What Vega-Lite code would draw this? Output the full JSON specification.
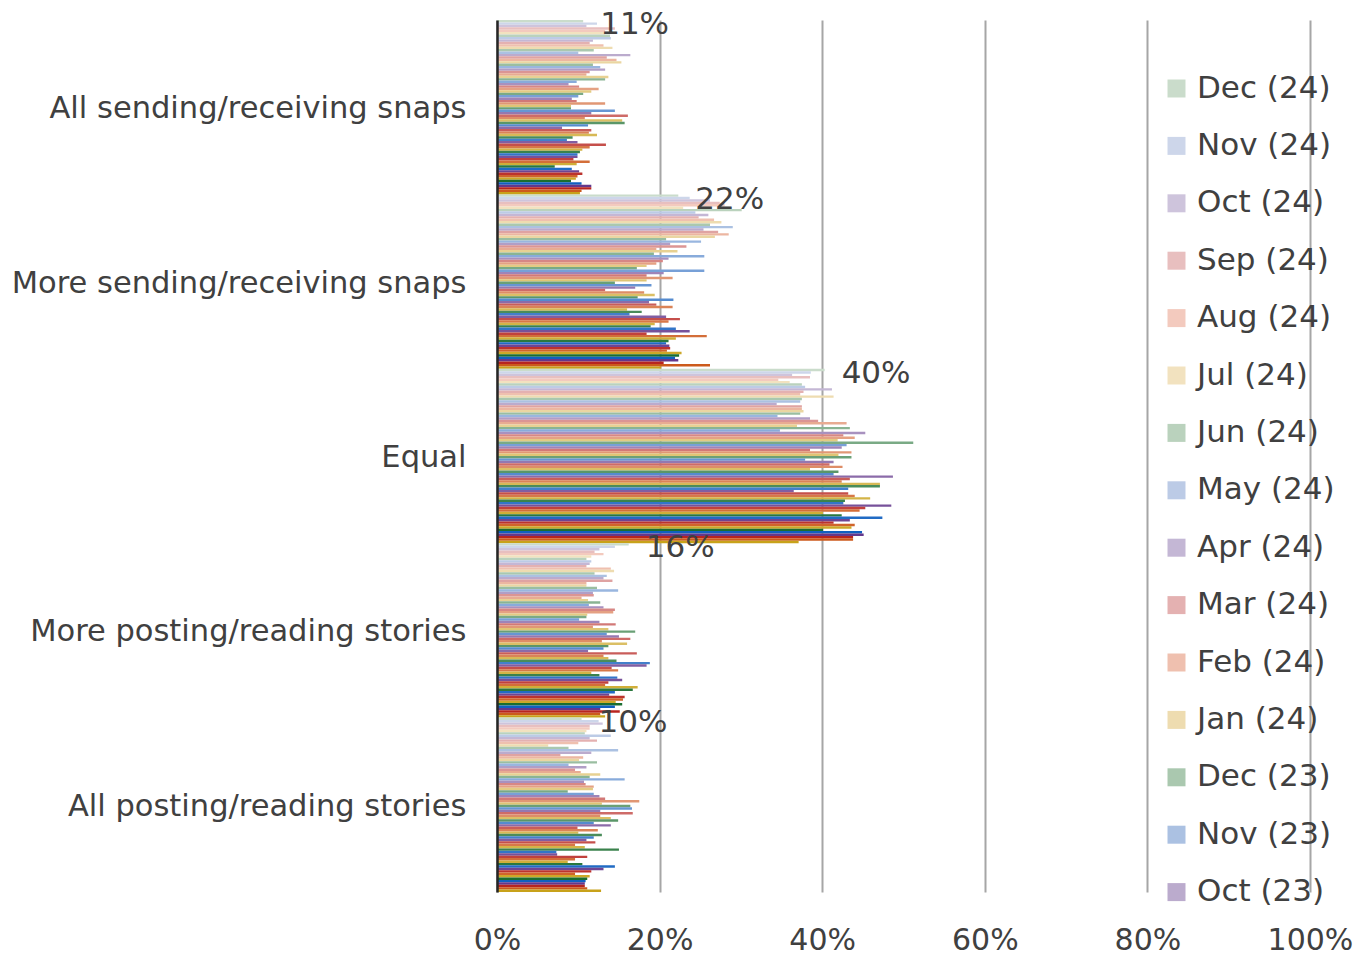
{
"$schema": "https://vega.github.io/schema/vega-lite/v6.json",
"width": 813, "height": 872,
"autosize": {"type": "none"},
"padding": {"left": 497, "top": 20, "right": 59, "bottom": 64},
"background": "white",
"config": {"view": {"stroke": null}, "font": "DejaVu Sans"},
"data": {"values": [
{"c":"All sending/receiving snaps","m":"Dec (24)","v":0.106},{"c":"All sending/receiving snaps","m":"Nov (24)","v":0.123},{"c":"All sending/receiving snaps","m":"Oct (24)","v":0.110},{"c":"All sending/receiving snaps","m":"Sep (24)","v":0.145},{"c":"All sending/receiving snaps","m":"Aug (24)","v":0.133},{"c":"All sending/receiving snaps","m":"Jul (24)","v":0.133},{"c":"All sending/receiving snaps","m":"Jun (24)","v":0.139},{"c":"All sending/receiving snaps","m":"May (24)","v":0.140},{"c":"All sending/receiving snaps","m":"Apr (24)","v":0.118},{"c":"All sending/receiving snaps","m":"Mar (24)","v":0.114},{"c":"All sending/receiving snaps","m":"Feb (24)","v":0.131},{"c":"All sending/receiving snaps","m":"Jan (24)","v":0.142},
{"c":"All sending/receiving snaps","m":"Dec (23)","v":0.119},{"c":"All sending/receiving snaps","m":"Nov (23)","v":0.100},{"c":"All sending/receiving snaps","m":"Oct (23)","v":0.164},{"c":"All sending/receiving snaps","m":"Sep (23)","v":0.135},{"c":"All sending/receiving snaps","m":"Aug (23)","v":0.147},{"c":"All sending/receiving snaps","m":"Jul (23)","v":0.153},{"c":"All sending/receiving snaps","m":"Jun (23)","v":0.118},{"c":"All sending/receiving snaps","m":"May (23)","v":0.127},{"c":"All sending/receiving snaps","m":"Apr (23)","v":0.133},{"c":"All sending/receiving snaps","m":"Mar (23)","v":0.114},{"c":"All sending/receiving snaps","m":"Feb (23)","v":0.110},{"c":"All sending/receiving snaps","m":"Jan (23)","v":0.137},
{"c":"All sending/receiving snaps","m":"Dec (22)","v":0.133},{"c":"All sending/receiving snaps","m":"Nov (22)","v":0.098},{"c":"All sending/receiving snaps","m":"Oct (22)","v":0.088},{"c":"All sending/receiving snaps","m":"Sep (22)","v":0.101},{"c":"All sending/receiving snaps","m":"Aug (22)","v":0.125},{"c":"All sending/receiving snaps","m":"Jul (22)","v":0.116},{"c":"All sending/receiving snaps","m":"Jun (22)","v":0.106},{"c":"All sending/receiving snaps","m":"May (22)","v":0.100},{"c":"All sending/receiving snaps","m":"Apr (22)","v":0.092},{"c":"All sending/receiving snaps","m":"Mar (22)","v":0.098},{"c":"All sending/receiving snaps","m":"Feb (22)","v":0.133},{"c":"All sending/receiving snaps","m":"Jan (22)","v":0.091},
{"c":"All sending/receiving snaps","m":"Dec (21)","v":0.091},{"c":"All sending/receiving snaps","m":"Nov (21)","v":0.145},{"c":"All sending/receiving snaps","m":"Oct (21)","v":0.116},{"c":"All sending/receiving snaps","m":"Sep (21)","v":0.161},{"c":"All sending/receiving snaps","m":"Aug (21)","v":0.108},{"c":"All sending/receiving snaps","m":"Jul (21)","v":0.154},{"c":"All sending/receiving snaps","m":"Jun (21)","v":0.157},{"c":"All sending/receiving snaps","m":"May (21)","v":0.112},{"c":"All sending/receiving snaps","m":"Apr (21)","v":0.080},{"c":"All sending/receiving snaps","m":"Mar (21)","v":0.116},{"c":"All sending/receiving snaps","m":"Feb (21)","v":0.113},{"c":"All sending/receiving snaps","m":"Jan (21)","v":0.123},
{"c":"All sending/receiving snaps","m":"Dec (20)","v":0.093},{"c":"All sending/receiving snaps","m":"Nov (20)","v":0.086},{"c":"All sending/receiving snaps","m":"Oct (20)","v":0.099},{"c":"All sending/receiving snaps","m":"Sep (20)","v":0.134},{"c":"All sending/receiving snaps","m":"Aug (20)","v":0.114},{"c":"All sending/receiving snaps","m":"Jul (20)","v":0.105},{"c":"All sending/receiving snaps","m":"Jun (20)","v":0.102},{"c":"All sending/receiving snaps","m":"May (20)","v":0.099},{"c":"All sending/receiving snaps","m":"Apr (20)","v":0.099},{"c":"All sending/receiving snaps","m":"Mar (20)","v":0.094},{"c":"All sending/receiving snaps","m":"Feb (20)","v":0.114},{"c":"All sending/receiving snaps","m":"Jan (20)","v":0.098},
{"c":"All sending/receiving snaps","m":"Dec (19)","v":0.071},{"c":"All sending/receiving snaps","m":"Nov (19)","v":0.092},{"c":"All sending/receiving snaps","m":"Oct (19)","v":0.101},{"c":"All sending/receiving snaps","m":"Sep (19)","v":0.105},{"c":"All sending/receiving snaps","m":"Aug (19)","v":0.099},{"c":"All sending/receiving snaps","m":"Jul (19)","v":0.097},{"c":"All sending/receiving snaps","m":"Jun (19)","v":0.091},{"c":"All sending/receiving snaps","m":"May (19)","v":0.104},{"c":"All sending/receiving snaps","m":"Apr (19)","v":0.116},{"c":"All sending/receiving snaps","m":"Mar (19)","v":0.116},{"c":"All sending/receiving snaps","m":"Feb (19)","v":0.104},{"c":"All sending/receiving snaps","m":"Jan (19)","v":0.102},
{"c":"More sending/receiving snaps","m":"Dec (24)","v":0.223},{"c":"More sending/receiving snaps","m":"Nov (24)","v":0.237},{"c":"More sending/receiving snaps","m":"Oct (24)","v":0.262},{"c":"More sending/receiving snaps","m":"Sep (24)","v":0.274},{"c":"More sending/receiving snaps","m":"Aug (24)","v":0.280},{"c":"More sending/receiving snaps","m":"Jul (24)","v":0.229},{"c":"More sending/receiving snaps","m":"Jun (24)","v":0.301},{"c":"More sending/receiving snaps","m":"May (24)","v":0.244},{"c":"More sending/receiving snaps","m":"Apr (24)","v":0.260},{"c":"More sending/receiving snaps","m":"Mar (24)","v":0.248},{"c":"More sending/receiving snaps","m":"Feb (24)","v":0.267},{"c":"More sending/receiving snaps","m":"Jan (24)","v":0.276},
{"c":"More sending/receiving snaps","m":"Dec (23)","v":0.262},{"c":"More sending/receiving snaps","m":"Nov (23)","v":0.290},{"c":"More sending/receiving snaps","m":"Oct (23)","v":0.254},{"c":"More sending/receiving snaps","m":"Sep (23)","v":0.272},{"c":"More sending/receiving snaps","m":"Aug (23)","v":0.285},{"c":"More sending/receiving snaps","m":"Jul (23)","v":0.268},{"c":"More sending/receiving snaps","m":"Jun (23)","v":0.208},{"c":"More sending/receiving snaps","m":"May (23)","v":0.251},{"c":"More sending/receiving snaps","m":"Apr (23)","v":0.213},{"c":"More sending/receiving snaps","m":"Mar (23)","v":0.233},{"c":"More sending/receiving snaps","m":"Feb (23)","v":0.196},{"c":"More sending/receiving snaps","m":"Jan (23)","v":0.222},
{"c":"More sending/receiving snaps","m":"Dec (22)","v":0.193},{"c":"More sending/receiving snaps","m":"Nov (22)","v":0.255},{"c":"More sending/receiving snaps","m":"Oct (22)","v":0.211},{"c":"More sending/receiving snaps","m":"Sep (22)","v":0.204},{"c":"More sending/receiving snaps","m":"Aug (22)","v":0.196},{"c":"More sending/receiving snaps","m":"Jul (22)","v":0.184},{"c":"More sending/receiving snaps","m":"Jun (22)","v":0.172},{"c":"More sending/receiving snaps","m":"May (22)","v":0.255},{"c":"More sending/receiving snaps","m":"Apr (22)","v":0.205},{"c":"More sending/receiving snaps","m":"Mar (22)","v":0.184},{"c":"More sending/receiving snaps","m":"Feb (22)","v":0.216},{"c":"More sending/receiving snaps","m":"Jan (22)","v":0.184},
{"c":"More sending/receiving snaps","m":"Dec (21)","v":0.145},{"c":"More sending/receiving snaps","m":"Nov (21)","v":0.190},{"c":"More sending/receiving snaps","m":"Oct (21)","v":0.170},{"c":"More sending/receiving snaps","m":"Sep (21)","v":0.133},{"c":"More sending/receiving snaps","m":"Aug (21)","v":0.181},{"c":"More sending/receiving snaps","m":"Jul (21)","v":0.194},{"c":"More sending/receiving snaps","m":"Jun (21)","v":0.173},{"c":"More sending/receiving snaps","m":"May (21)","v":0.217},{"c":"More sending/receiving snaps","m":"Apr (21)","v":0.187},{"c":"More sending/receiving snaps","m":"Mar (21)","v":0.196},{"c":"More sending/receiving snaps","m":"Feb (21)","v":0.216},{"c":"More sending/receiving snaps","m":"Jan (21)","v":0.160},
{"c":"More sending/receiving snaps","m":"Dec (20)","v":0.178},{"c":"More sending/receiving snaps","m":"Nov (20)","v":0.163},{"c":"More sending/receiving snaps","m":"Oct (20)","v":0.208},{"c":"More sending/receiving snaps","m":"Sep (20)","v":0.225},{"c":"More sending/receiving snaps","m":"Aug (20)","v":0.211},{"c":"More sending/receiving snaps","m":"Jul (20)","v":0.194},{"c":"More sending/receiving snaps","m":"Jun (20)","v":0.189},{"c":"More sending/receiving snaps","m":"May (20)","v":0.220},{"c":"More sending/receiving snaps","m":"Apr (20)","v":0.237},{"c":"More sending/receiving snaps","m":"Mar (20)","v":0.184},{"c":"More sending/receiving snaps","m":"Feb (20)","v":0.258},{"c":"More sending/receiving snaps","m":"Jan (20)","v":0.220},
{"c":"More sending/receiving snaps","m":"Dec (19)","v":0.211},{"c":"More sending/receiving snaps","m":"Nov (19)","v":0.208},{"c":"More sending/receiving snaps","m":"Oct (19)","v":0.212},{"c":"More sending/receiving snaps","m":"Sep (19)","v":0.213},{"c":"More sending/receiving snaps","m":"Aug (19)","v":0.209},{"c":"More sending/receiving snaps","m":"Jul (19)","v":0.227},{"c":"More sending/receiving snaps","m":"Jun (19)","v":0.224},{"c":"More sending/receiving snaps","m":"May (19)","v":0.219},{"c":"More sending/receiving snaps","m":"Apr (19)","v":0.223},{"c":"More sending/receiving snaps","m":"Mar (19)","v":0.205},{"c":"More sending/receiving snaps","m":"Feb (19)","v":0.262},{"c":"More sending/receiving snaps","m":"Jan (19)","v":0.202},
{"c":"Equal","m":"Dec (24)","v":0.403},{"c":"Equal","m":"Nov (24)","v":0.386},{"c":"Equal","m":"Oct (24)","v":0.363},{"c":"Equal","m":"Sep (24)","v":0.385},{"c":"Equal","m":"Aug (24)","v":0.346},{"c":"Equal","m":"Jul (24)","v":0.360},{"c":"Equal","m":"Jun (24)","v":0.375},{"c":"Equal","m":"May (24)","v":0.379},{"c":"Equal","m":"Apr (24)","v":0.412},{"c":"Equal","m":"Mar (24)","v":0.377},{"c":"Equal","m":"Feb (24)","v":0.373},{"c":"Equal","m":"Jan (24)","v":0.414},
{"c":"Equal","m":"Dec (23)","v":0.375},{"c":"Equal","m":"Nov (23)","v":0.373},{"c":"Equal","m":"Oct (23)","v":0.344},{"c":"Equal","m":"Sep (23)","v":0.375},{"c":"Equal","m":"Aug (23)","v":0.375},{"c":"Equal","m":"Jul (23)","v":0.377},{"c":"Equal","m":"Jun (23)","v":0.373},{"c":"Equal","m":"May (23)","v":0.345},{"c":"Equal","m":"Apr (23)","v":0.385},{"c":"Equal","m":"Mar (23)","v":0.395},{"c":"Equal","m":"Feb (23)","v":0.430},{"c":"Equal","m":"Jan (23)","v":0.369},
{"c":"Equal","m":"Dec (22)","v":0.434},{"c":"Equal","m":"Nov (22)","v":0.348},{"c":"Equal","m":"Oct (22)","v":0.453},{"c":"Equal","m":"Sep (22)","v":0.426},{"c":"Equal","m":"Aug (22)","v":0.440},{"c":"Equal","m":"Jul (22)","v":0.419},{"c":"Equal","m":"Jun (22)","v":0.512},{"c":"Equal","m":"May (22)","v":0.430},{"c":"Equal","m":"Apr (22)","v":0.424},{"c":"Equal","m":"Mar (22)","v":0.385},{"c":"Equal","m":"Feb (22)","v":0.436},{"c":"Equal","m":"Jan (22)","v":0.420},
{"c":"Equal","m":"Dec (21)","v":0.436},{"c":"Equal","m":"Nov (21)","v":0.379},{"c":"Equal","m":"Oct (21)","v":0.414},{"c":"Equal","m":"Sep (21)","v":0.409},{"c":"Equal","m":"Aug (21)","v":0.425},{"c":"Equal","m":"Jul (21)","v":0.385},{"c":"Equal","m":"Jun (21)","v":0.420},{"c":"Equal","m":"May (21)","v":0.414},{"c":"Equal","m":"Apr (21)","v":0.487},{"c":"Equal","m":"Mar (21)","v":0.434},{"c":"Equal","m":"Feb (21)","v":0.424},{"c":"Equal","m":"Jan (21)","v":0.471},
{"c":"Equal","m":"Dec (20)","v":0.471},{"c":"Equal","m":"Nov (20)","v":0.432},{"c":"Equal","m":"Oct (20)","v":0.365},{"c":"Equal","m":"Sep (20)","v":0.432},{"c":"Equal","m":"Aug (20)","v":0.440},{"c":"Equal","m":"Jul (20)","v":0.459},{"c":"Equal","m":"Jun (20)","v":0.428},{"c":"Equal","m":"May (20)","v":0.426},{"c":"Equal","m":"Apr (20)","v":0.485},{"c":"Equal","m":"Mar (20)","v":0.453},{"c":"Equal","m":"Feb (20)","v":0.446},{"c":"Equal","m":"Jan (20)","v":0.401},
{"c":"Equal","m":"Dec (19)","v":0.424},{"c":"Equal","m":"Nov (19)","v":0.474},{"c":"Equal","m":"Oct (19)","v":0.434},{"c":"Equal","m":"Sep (19)","v":0.414},{"c":"Equal","m":"Aug (19)","v":0.440},{"c":"Equal","m":"Jul (19)","v":0.436},{"c":"Equal","m":"Jun (19)","v":0.401},{"c":"Equal","m":"May (19)","v":0.449},{"c":"Equal","m":"Apr (19)","v":0.451},{"c":"Equal","m":"Mar (19)","v":0.438},{"c":"Equal","m":"Feb (19)","v":0.438},{"c":"Equal","m":"Jan (19)","v":0.371},
{"c":"More posting/reading stories","m":"Dec (24)","v":0.162},{"c":"More posting/reading stories","m":"Nov (24)","v":0.145},{"c":"More posting/reading stories","m":"Oct (24)","v":0.126},{"c":"More posting/reading stories","m":"Sep (24)","v":0.120},{"c":"More posting/reading stories","m":"Aug (24)","v":0.131},{"c":"More posting/reading stories","m":"Jul (24)","v":0.116},{"c":"More posting/reading stories","m":"Jun (24)","v":0.110},{"c":"More posting/reading stories","m":"May (24)","v":0.116},{"c":"More posting/reading stories","m":"Apr (24)","v":0.114},{"c":"More posting/reading stories","m":"Mar (24)","v":0.110},{"c":"More posting/reading stories","m":"Feb (24)","v":0.140},{"c":"More posting/reading stories","m":"Jan (24)","v":0.144},
{"c":"More posting/reading stories","m":"Dec (23)","v":0.120},{"c":"More posting/reading stories","m":"Nov (23)","v":0.135},{"c":"More posting/reading stories","m":"Oct (23)","v":0.131},{"c":"More posting/reading stories","m":"Sep (23)","v":0.142},{"c":"More posting/reading stories","m":"Aug (23)","v":0.110},{"c":"More posting/reading stories","m":"Jul (23)","v":0.110},{"c":"More posting/reading stories","m":"Jun (23)","v":0.123},{"c":"More posting/reading stories","m":"May (23)","v":0.149},{"c":"More posting/reading stories","m":"Apr (23)","v":0.118},{"c":"More posting/reading stories","m":"Mar (23)","v":0.119},{"c":"More posting/reading stories","m":"Feb (23)","v":0.104},{"c":"More posting/reading stories","m":"Jan (23)","v":0.112},
{"c":"More posting/reading stories","m":"Dec (22)","v":0.127},{"c":"More posting/reading stories","m":"Nov (22)","v":0.113},{"c":"More posting/reading stories","m":"Oct (22)","v":0.131},{"c":"More posting/reading stories","m":"Sep (22)","v":0.145},{"c":"More posting/reading stories","m":"Aug (22)","v":0.143},{"c":"More posting/reading stories","m":"Jul (22)","v":0.111},{"c":"More posting/reading stories","m":"Jun (22)","v":0.110},{"c":"More posting/reading stories","m":"May (22)","v":0.101},{"c":"More posting/reading stories","m":"Apr (22)","v":0.126},{"c":"More posting/reading stories","m":"Mar (22)","v":0.146},{"c":"More posting/reading stories","m":"Feb (22)","v":0.118},{"c":"More posting/reading stories","m":"Jan (22)","v":0.137},
{"c":"More posting/reading stories","m":"Dec (21)","v":0.170},{"c":"More posting/reading stories","m":"Nov (21)","v":0.135},{"c":"More posting/reading stories","m":"Oct (21)","v":0.150},{"c":"More posting/reading stories","m":"Sep (21)","v":0.164},{"c":"More posting/reading stories","m":"Aug (21)","v":0.129},{"c":"More posting/reading stories","m":"Jul (21)","v":0.160},{"c":"More posting/reading stories","m":"Jun (21)","v":0.137},{"c":"More posting/reading stories","m":"May (21)","v":0.131},{"c":"More posting/reading stories","m":"Apr (21)","v":0.112},{"c":"More posting/reading stories","m":"Mar (21)","v":0.172},{"c":"More posting/reading stories","m":"Feb (21)","v":0.131},{"c":"More posting/reading stories","m":"Jan (21)","v":0.137},
{"c":"More posting/reading stories","m":"Dec (20)","v":0.147},{"c":"More posting/reading stories","m":"Nov (20)","v":0.188},{"c":"More posting/reading stories","m":"Oct (20)","v":0.184},{"c":"More posting/reading stories","m":"Sep (20)","v":0.141},{"c":"More posting/reading stories","m":"Aug (20)","v":0.149},{"c":"More posting/reading stories","m":"Jul (20)","v":0.116},{"c":"More posting/reading stories","m":"Jun (20)","v":0.126},{"c":"More posting/reading stories","m":"May (20)","v":0.148},{"c":"More posting/reading stories","m":"Apr (20)","v":0.154},{"c":"More posting/reading stories","m":"Mar (20)","v":0.137},{"c":"More posting/reading stories","m":"Feb (20)","v":0.133},{"c":"More posting/reading stories","m":"Jan (20)","v":0.173},
{"c":"More posting/reading stories","m":"Dec (19)","v":0.167},{"c":"More posting/reading stories","m":"Nov (19)","v":0.145},{"c":"More posting/reading stories","m":"Oct (19)","v":0.138},{"c":"More posting/reading stories","m":"Sep (19)","v":0.157},{"c":"More posting/reading stories","m":"Aug (19)","v":0.155},{"c":"More posting/reading stories","m":"Jul (19)","v":0.146},{"c":"More posting/reading stories","m":"Jun (19)","v":0.154},{"c":"More posting/reading stories","m":"May (19)","v":0.145},{"c":"More posting/reading stories","m":"Apr (19)","v":0.127},{"c":"More posting/reading stories","m":"Mar (19)","v":0.151},{"c":"More posting/reading stories","m":"Feb (19)","v":0.127},{"c":"More posting/reading stories","m":"Jan (19)","v":0.133},
{"c":"All posting/reading stories","m":"Dec (24)","v":0.104},{"c":"All posting/reading stories","m":"Nov (24)","v":0.125},{"c":"All posting/reading stories","m":"Oct (24)","v":0.130},{"c":"All posting/reading stories","m":"Sep (24)","v":0.114},{"c":"All posting/reading stories","m":"Aug (24)","v":0.114},{"c":"All posting/reading stories","m":"Jul (24)","v":0.110},{"c":"All posting/reading stories","m":"Jun (24)","v":0.108},{"c":"All posting/reading stories","m":"May (24)","v":0.140},{"c":"All posting/reading stories","m":"Apr (24)","v":0.114},{"c":"All posting/reading stories","m":"Mar (24)","v":0.123},{"c":"All posting/reading stories","m":"Feb (24)","v":0.100},{"c":"All posting/reading stories","m":"Jan (24)","v":0.063},
{"c":"All posting/reading stories","m":"Dec (23)","v":0.088},{"c":"All posting/reading stories","m":"Nov (23)","v":0.149},{"c":"All posting/reading stories","m":"Oct (23)","v":0.116},{"c":"All posting/reading stories","m":"Sep (23)","v":0.078},{"c":"All posting/reading stories","m":"Aug (23)","v":0.106},{"c":"All posting/reading stories","m":"Jul (23)","v":0.101},{"c":"All posting/reading stories","m":"Jun (23)","v":0.123},{"c":"All posting/reading stories","m":"May (23)","v":0.088},{"c":"All posting/reading stories","m":"Apr (23)","v":0.110},{"c":"All posting/reading stories","m":"Mar (23)","v":0.096},{"c":"All posting/reading stories","m":"Feb (23)","v":0.103},{"c":"All posting/reading stories","m":"Jan (23)","v":0.127},
{"c":"All posting/reading stories","m":"Dec (22)","v":0.114},{"c":"All posting/reading stories","m":"Nov (22)","v":0.157},{"c":"All posting/reading stories","m":"Oct (22)","v":0.107},{"c":"All posting/reading stories","m":"Sep (22)","v":0.109},{"c":"All posting/reading stories","m":"Aug (22)","v":0.119},{"c":"All posting/reading stories","m":"Jul (22)","v":0.118},{"c":"All posting/reading stories","m":"Jun (22)","v":0.087},{"c":"All posting/reading stories","m":"May (22)","v":0.119},{"c":"All posting/reading stories","m":"Apr (22)","v":0.126},{"c":"All posting/reading stories","m":"Mar (22)","v":0.133},{"c":"All posting/reading stories","m":"Feb (22)","v":0.175},{"c":"All posting/reading stories","m":"Jan (22)","v":0.129},
{"c":"All posting/reading stories","m":"Dec (21)","v":0.164},{"c":"All posting/reading stories","m":"Nov (21)","v":0.166},{"c":"All posting/reading stories","m":"Oct (21)","v":0.127},{"c":"All posting/reading stories","m":"Sep (21)","v":0.167},{"c":"All posting/reading stories","m":"Aug (21)","v":0.127},{"c":"All posting/reading stories","m":"Jul (21)","v":0.140},{"c":"All posting/reading stories","m":"Jun (21)","v":0.149},{"c":"All posting/reading stories","m":"May (21)","v":0.119},{"c":"All posting/reading stories","m":"Apr (21)","v":0.140},{"c":"All posting/reading stories","m":"Mar (21)","v":0.099},{"c":"All posting/reading stories","m":"Feb (21)","v":0.124},{"c":"All posting/reading stories","m":"Jan (21)","v":0.100},
{"c":"All posting/reading stories","m":"Dec (20)","v":0.129},{"c":"All posting/reading stories","m":"Nov (20)","v":0.119},{"c":"All posting/reading stories","m":"Oct (20)","v":0.110},{"c":"All posting/reading stories","m":"Sep (20)","v":0.121},{"c":"All posting/reading stories","m":"Aug (20)","v":0.096},{"c":"All posting/reading stories","m":"Jul (20)","v":0.108},{"c":"All posting/reading stories","m":"Jun (20)","v":0.150},{"c":"All posting/reading stories","m":"May (20)","v":0.073},{"c":"All posting/reading stories","m":"Apr (20)","v":0.074},{"c":"All posting/reading stories","m":"Mar (20)","v":0.111},{"c":"All posting/reading stories","m":"Feb (20)","v":0.096},{"c":"All posting/reading stories","m":"Jan (20)","v":0.087},
{"c":"All posting/reading stories","m":"Dec (19)","v":0.105},{"c":"All posting/reading stories","m":"Nov (19)","v":0.145},{"c":"All posting/reading stories","m":"Oct (19)","v":0.131},{"c":"All posting/reading stories","m":"Sep (19)","v":0.116},{"c":"All posting/reading stories","m":"Aug (19)","v":0.096},{"c":"All posting/reading stories","m":"Jul (19)","v":0.114},{"c":"All posting/reading stories","m":"Jun (19)","v":0.111},{"c":"All posting/reading stories","m":"May (19)","v":0.109},{"c":"All posting/reading stories","m":"Apr (19)","v":0.108},{"c":"All posting/reading stories","m":"Mar (19)","v":0.108},{"c":"All posting/reading stories","m":"Feb (19)","v":0.111},{"c":"All posting/reading stories","m":"Jan (19)","v":0.128}
]},
"layer": [
{
"mark": {"type": "bar"},
"encoding": {
"y": {"field": "c", "type": "nominal", "title": null,
 "scale": {"domain": ["All sending/receiving snaps","More sending/receiving snaps","Equal","More posting/reading stories","All posting/reading stories"], "paddingInner": 0, "paddingOuter": 0},
 "axis": {"labelFontSize": 30.5, "labelColor": "#404040", "labelPadding": 31, "labelOffset": 2, "ticks": false, "domainColor": "#262626", "domainWidth": 2.5, "labelLimit": 700, "zindex": 1}},
"yOffset": {"field": "m", "type": "nominal",
 "scale": {"domain": ["Dec (24)","Nov (24)","Oct (24)","Sep (24)","Aug (24)","Jul (24)","Jun (24)","May (24)","Apr (24)","Mar (24)","Feb (24)","Jan (24)","Dec (23)","Nov (23)","Oct (23)","Sep (23)","Aug (23)","Jul (23)","Jun (23)","May (23)","Apr (23)","Mar (23)","Feb (23)","Jan (23)","Dec (22)","Nov (22)","Oct (22)","Sep (22)","Aug (22)","Jul (22)","Jun (22)","May (22)","Apr (22)","Mar (22)","Feb (22)","Jan (22)","Dec (21)","Nov (21)","Oct (21)","Sep (21)","Aug (21)","Jul (21)","Jun (21)","May (21)","Apr (21)","Mar (21)","Feb (21)","Jan (21)","Dec (20)","Nov (20)","Oct (20)","Sep (20)","Aug (20)","Jul (20)","Jun (20)","May (20)","Apr (20)","Mar (20)","Feb (20)","Jan (20)","Dec (19)","Nov (19)","Oct (19)","Sep (19)","Aug (19)","Jul (19)","Jun (19)","May (19)","Apr (19)","Mar (19)","Feb (19)","Jan (19)"], "paddingInner": 0, "paddingOuter": 0}},
"x": {"field": "v", "type": "quantitative", "title": null,
 "scale": {"domain": [0, 1], "nice": false},
 "axis": {"format": ".0%", "values": [0, 0.2, 0.4, 0.6, 0.8, 1], "labelFontSize": 30, "labelColor": "#404040", "labelPadding": 33, "ticks": false, "domain": false, "grid": true, "gridColor": "#a6a6a6", "gridWidth": 2, "labelFlush": false}},
"color": {"field": "m", "type": "nominal",
 "scale": {"domain": ["Dec (24)","Nov (24)","Oct (24)","Sep (24)","Aug (24)","Jul (24)","Jun (24)","May (24)","Apr (24)","Mar (24)","Feb (24)","Jan (24)","Dec (23)","Nov (23)","Oct (23)","Sep (23)","Aug (23)","Jul (23)","Jun (23)","May (23)","Apr (23)","Mar (23)","Feb (23)","Jan (23)","Dec (22)","Nov (22)","Oct (22)","Sep (22)","Aug (22)","Jul (22)","Jun (22)","May (22)","Apr (22)","Mar (22)","Feb (22)","Jan (22)","Dec (21)","Nov (21)","Oct (21)","Sep (21)","Aug (21)","Jul (21)","Jun (21)","May (21)","Apr (21)","Mar (21)","Feb (21)","Jan (21)","Dec (20)","Nov (20)","Oct (20)","Sep (20)","Aug (20)","Jul (20)","Jun (20)","May (20)","Apr (20)","Mar (20)","Feb (20)","Jan (20)","Dec (19)","Nov (19)","Oct (19)","Sep (19)","Aug (19)","Jul (19)","Jun (19)","May (19)","Apr (19)","Mar (19)","Feb (19)","Jan (19)"],
  "range": ["#cadccb","#cdd6ea","#cec4dc","#e8bfbf","#f3cabe","#f2e2bf","#bad2bd","#bccbe6","#c4b7d5","#e4b1b1","#efc0af","#eedcb0","#aac8af","#abc1e2","#bbabcd","#dfa3a2","#ecb6a1","#ead6a1","#9abea1","#99b6df","#b19ec6","#db9594","#e8ab92","#e7d192","#8ab493","#88abdb","#a891bf","#d78785","#e5a183","#e3cb83","#7aaa85","#77a0d7","#9e84b8","#d27977","#e19774","#dfc574","#6aa076","#6696d3","#9478b0","#ce6b68","#de8d66","#dbbf65","#5a9668","#558bcf","#8b6ba9","#c95d5a","#da8357","#d7b956","#4a8c5a","#4380cb","#815ea2","#c54f4b","#d77848","#d3b447","#3a824c","#3275c8","#77519a","#c1413d","#d36e39","#d0ae38","#2a783e","#216bc4","#6e4593","#bc332e","#d0642b","#cca829","#1a6e30","#1060c0","#64388c","#b82520","#cc5a1c","#c8a21a"]},
 "legend": {"orient": "none", "legendX": 664, "legendY": 53, "title": null,
  "values": ["Dec (24)","Nov (24)","Oct (24)","Sep (24)","Aug (24)","Jul (24)","Jun (24)","May (24)","Apr (24)","Mar (24)","Feb (24)","Jan (24)","Dec (23)","Nov (23)","Oct (23)"],
  "symbolType": "square", "symbolSize": 324, "symbolStrokeWidth": 0, "symbolOpacity": 1, "labelFontSize": 31, "labelColor": "#404040", "labelOffset": 5, "rowPadding": 25.4, "labelLimit": 300}}
}
},
{
"transform": [{"filter": "datum.m == 'Dec (24)'"}],
"mark": {"type": "text", "align": "left", "baseline": "middle", "dx": 17, "dy": 4, "fontSize": 31, "color": "#404040"},
"encoding": {
"y": {"field": "c", "type": "nominal"},
"yOffset": {"field": "m", "type": "nominal"},
"x": {"field": "v", "type": "quantitative"},
"text": {"field": "v", "type": "quantitative", "format": ".0%"}
}
}
]
}
